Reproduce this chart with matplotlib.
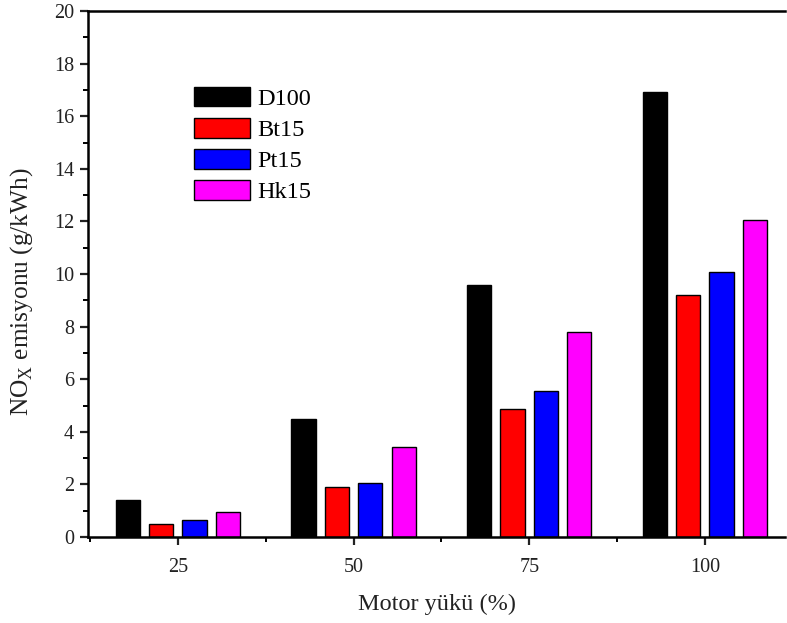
import matplotlib
matplotlib.use("Agg")
import matplotlib.pyplot as plt
from matplotlib.ticker import MultipleLocator, FixedLocator
import numpy as np

plt.rcParams['font.family'] = ['Liberation Serif', 'DejaVu Serif']
plt.rcParams['mathtext.fontset'] = 'custom'
plt.rcParams['mathtext.rm'] = 'Liberation Serif'

loads = [25, 50, 75, 100]
series_names = ['D100', 'Bt15', 'Pt15', 'Hk15']
d100 = [1.41, 4.48, 9.58, 16.92]
bt15 = [0.48, 1.90, 4.87, 9.20]
pt15 = [0.63, 2.04, 5.55, 10.06]
hk15 = [0.96, 3.43, 7.79, 12.04]
colors = ['#000000', '#ff0000', '#0000ff', '#ff00ff']

fig = plt.figure(figsize=(7.87, 6.23), dpi=100)
ax = fig.add_axes([0.1118, 0.138, 0.8857, 0.8443])

step = 4.75
width = 3.45
x = np.array(loads, dtype=float)
handles = []
for i, (vals, name, c) in enumerate(zip([d100, bt15, pt15, hk15], series_names, colors)):
    h = ax.bar(x + (i - 1.5) * step, vals, width=width, color=c,
               edgecolor='black', linewidth=1.0, label=name)
    handles.append(h)

ax.set_xlim(12.2, 111.4)
ax.set_ylim(0, 20)
ax.xaxis.set_major_locator(FixedLocator(loads))
ax.xaxis.set_minor_locator(FixedLocator([12.5, 37.5, 62.5, 87.5]))
ax.yaxis.set_major_locator(MultipleLocator(2))
ax.yaxis.set_minor_locator(MultipleLocator(1))

for s in ['left', 'bottom', 'top']:
    ax.spines[s].set_linewidth(1.8)
ax.spines['right'].set_visible(False)

ax.tick_params(axis='both', which='major', direction='out', length=6, width=1.6,
               labelsize=14.5, colors='#222222', labelcolor='#222222', pad=4)
ax.tick_params(axis='both', which='minor', direction='out', length=3.5, width=1.4)
ax.tick_params(axis='x', which='major', pad=9)
ax.tick_params(top=False, right=False, which='both')

ax.set_xlabel('Motor yükü (%)', fontsize=17.5, labelpad=12, color='#222222')
ax.set_ylabel(r'NO$_\mathregular{X}$ emisyonu (g/kWh)', fontsize=18.3, color='#222222',
              va='center')
ax.yaxis.set_label_coords(-0.095, 0.466)

leg = ax.legend(handles=handles, loc='upper left', bbox_to_anchor=(0.152, 0.856),
                frameon=False, fontsize=17.5, handlelength=2.3, handleheight=0.87,
                labelspacing=0.32, handletextpad=0.3, borderaxespad=0, borderpad=0)

fig.savefig('out.png', dpi=100)
